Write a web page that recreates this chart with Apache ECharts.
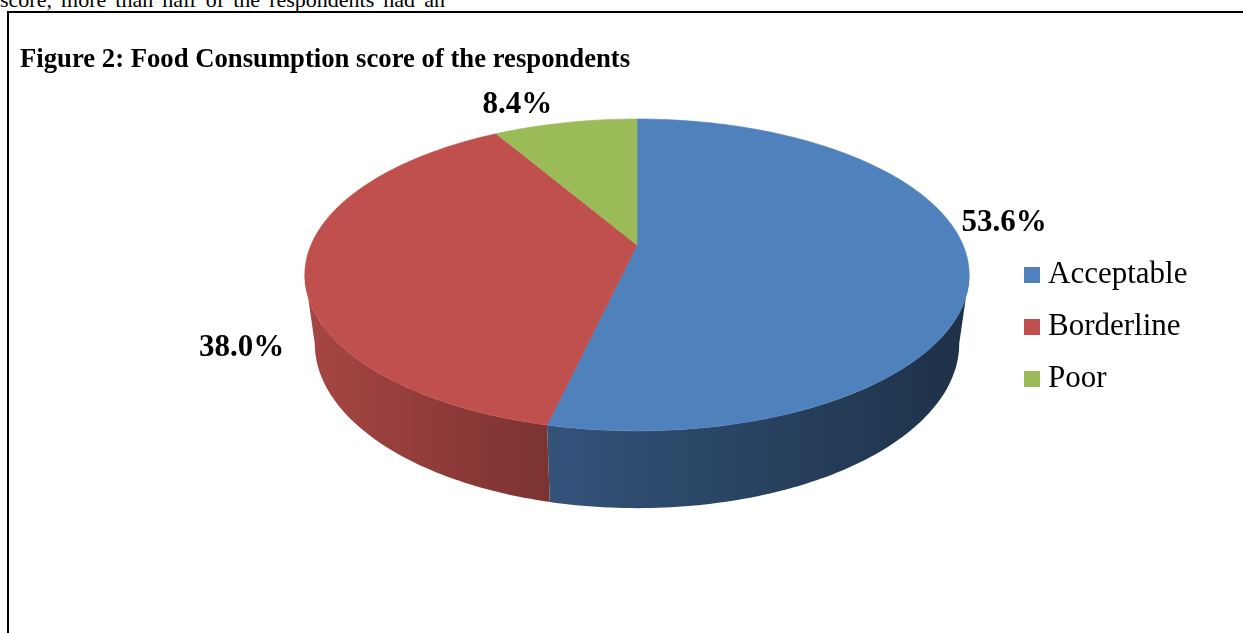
<!DOCTYPE html>
<html>
<head>
<meta charset="utf-8">
<script src="https://cdn.jsdelivr.net/npm/echarts@6/dist/echarts.min.js"></script>
<style>
  html, body { margin: 0; padding: 0; background: #fff; overflow: hidden; }
  #wrap { position: relative; width: 1243px; height: 633px; }
  #para { position: absolute; left: 0; top: -11px; width: 445px; font: 22px "Liberation Serif", serif; line-height: 22px; color: #000; text-align: justify; text-align-last: justify; }
  #frame { position: absolute; left: 7px; top: 11px; right: -10px; bottom: -10px; border-left: 2px solid #000; border-top: 2px solid #000; }
  #chart { position: absolute; left: 0; top: 0; width: 1243px; height: 633px; }
</style>
</head>
<body>
<div id="wrap">
  <div id="para">score, more than half of the respondents had an</div>
  <div id="frame"></div>
  <div id="chart"></div>
</div>
<script>
// ---- data ----
const titleText = 'Figure 2: Food Consumption score of the respondents';
const categories = ['Acceptable', 'Borderline', 'Poor'];
const values = [53.6, 38.0, 8.4];

// ---- styles / layout ----
const colors = ['#4F81BD', '#C0504D', '#9BBB59'];
// perspective pie: centre, half-width A, half-height B, perspective k, wall height H, bottom scale m
const PIE = { cx: 637, cy: 245, A: 326, B: 150.2, k: 0.192, H: 69, m: 0.97 };
const LABEL_R = 1.15;
const LABEL_NUDGE = [[-15, -42], [-12, 76], [-39, -3]];
const SERIF = '"Liberation Serif", "Times New Roman", serif';

function shade(hex, f) {
  const n = parseInt(hex.slice(1), 16);
  const r = Math.round(((n >> 16) & 255) * f);
  const g = Math.round(((n >> 8) & 255) * f);
  const b = Math.round((n & 255) * f);
  return 'rgb(' + r + ',' + g + ',' + b + ')';
}
// side lighting as function of horizontal position across the pie (0..1)
function light(t) {
  const pts = [[0, 0.87], [0.37, 0.64], [1, 0.38]];
  if (t <= 0) return pts[0][1];
  for (let i = 1; i < pts.length; i++) {
    if (t <= pts[i][0]) {
      const p = pts[i - 1], q = pts[i];
      return p[1] + (q[1] - p[1]) * (t - p[0]) / (q[0] - p[0]);
    }
  }
  return pts[pts.length - 1][1];
}
function proj(u, w, bottom) {
  const d = 1 + PIE.k * w;
  if (!bottom) return [PIE.cx + PIE.A * u / d, PIE.cy - PIE.B * w / d];
  return [PIE.cx + PIE.m * PIE.A * u / d, PIE.cy + PIE.m * (PIE.H - PIE.B * w) / d];
}
function topPt(deg) { const r = deg * Math.PI / 180; return proj(Math.sin(r), Math.cos(r), false); }
function botPt(deg) { const r = deg * Math.PI / 180; return proj(Math.sin(r), Math.cos(r), true); }
function arc(fn, a, b) {
  const pts = [];
  const n = Math.max(2, Math.ceil(Math.abs(b - a)));
  for (let i = 0; i <= n; i++) pts.push(fn(a + (b - a) * i / n));
  return pts;
}

const total = values.reduce((s, v) => s + v, 0);
const sideFrom = Math.acos(-PIE.k) * 180 / Math.PI;
const sideTo = 360 - sideFrom;

function makeRender(idx) {
  return function (params, api) {
    const v = api.value(0);
    let start = 0;
    for (let i = 0; i < idx; i++) start += values[i];
    const a0 = start / total * 360;
    const a1 = (start + v) / total * 360;
    const color = colors[idx];
    const children = [];

    // front side wall
    const s0 = Math.max(a0, sideFrom), s1 = Math.min(a1, sideTo);
    if (s1 > s0) {
      const top = arc(topPt, s0, s1);
      const bot = arc(botPt, s1, s0);
      const pts = top.concat(bot);
      const xs = pts.map(p => p[0]);
      const xL = Math.min.apply(null, xs), xR = Math.max.apply(null, xs);
      const left = topPt(sideTo)[0], width = topPt(sideFrom)[0] - left;
      const stops = [];
      for (let k = 0; k <= 6; k++) {
        const x = xL + (xR - xL) * k / 6;
        stops.push({ offset: k / 6, color: shade(color, light((x - left) / width)) });
      }
      children.push({
        type: 'polygon', z2: 1,
        shape: { points: pts },
        style: { fill: { type: 'linear', x: xL, y: 0, x2: xR, y2: 0, global: true, colorStops: stops }, stroke: null }
      });
    }
    // top face
    const face = [[PIE.cx, PIE.cy]].concat(arc(topPt, a0, a1));
    children.push({
      type: 'polygon', z2: 5,
      shape: { points: face },
      style: { fill: color, stroke: color, lineWidth: 0.6 }
    });
    // label
    const mid = (a0 + a1) / 2 * Math.PI / 180;
    const p = proj(LABEL_R * Math.sin(mid), LABEL_R * Math.cos(mid), false);
    children.push({
      type: 'text', z2: 10,
      style: {
        text: (v / total * 100).toFixed(1) + '%',
        x: p[0] + LABEL_NUDGE[idx][0], y: p[1] + LABEL_NUDGE[idx][1],
        align: 'center', verticalAlign: 'middle',
        font: 'bold 31px ' + SERIF, fill: '#000'
      }
    });
    return { type: 'group', children: children };
  };
}

const chart = echarts.init(document.getElementById('chart'), null, { renderer: 'canvas' });
chart.setOption({
  animation: false,
  color: colors,
  title: {
    text: titleText, left: 20, top: 47, padding: 0,
    textStyle: { fontFamily: SERIF, fontWeight: 'bold', fontSize: 26.7, color: '#000' }
  },
  legend: {
    data: categories, orient: 'vertical', left: 1024, top: 259, padding: 0,
    icon: 'rect', itemWidth: 16, itemHeight: 16, itemGap: 20,
    textStyle: { fontFamily: SERIF, fontSize: 31, lineHeight: 32, color: '#000', padding: [0, 0, 0, 3] },
    selectedMode: false
  },
  series: categories.map((name, i) => ({
    type: 'custom', name: name, coordinateSystem: 'none',
    itemStyle: { color: colors[i] },
    data: [[values[i]]],
    renderItem: makeRender(i)
  }))
});
</script>
</body>
</html>
